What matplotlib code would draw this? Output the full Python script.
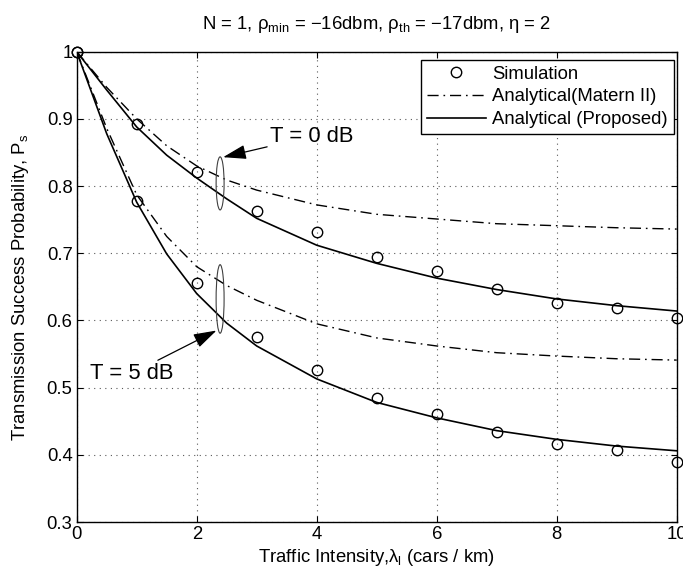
import matplotlib
matplotlib.use("Agg")
import matplotlib.pyplot as plt
from matplotlib.patches import Ellipse

plt.rcParams['font.family'] = ['Liberation Sans', 'DejaVu Sans']
plt.rcParams['mathtext.fontset'] = 'custom'
plt.rcParams['mathtext.rm'] = 'Liberation Sans'
plt.rcParams['mathtext.it'] = 'Liberation Sans'
plt.rcParams['mathtext.default'] = 'regular'

# Simulated success probability at integer traffic intensities
lam_sim = [0, 1, 2, 3, 4, 5, 6, 7, 8, 9, 10]
sim_t0 = [1.0, 0.893, 0.821, 0.763, 0.731, 0.694, 0.673, 0.647, 0.626, 0.618, 0.604]
sim_t5 = [1.0, 0.778, 0.656, 0.575, 0.526, 0.484, 0.461, 0.434, 0.416, 0.407, 0.389]

# Analytical curves
lam_curve = [0, 0.5, 1, 1.5, 2, 2.5, 3, 4, 5, 6, 7, 8, 9, 10]
prop_t0 = [1.0, 0.943, 0.888, 0.846, 0.812, 0.781, 0.752, 0.712, 0.685, 0.663, 0.646, 0.632, 0.622, 0.614]
matern_t0 = [1.0, 0.947, 0.900, 0.860, 0.830, 0.809, 0.794, 0.772, 0.758, 0.751, 0.744, 0.741, 0.738, 0.736]
prop_t5 = [1.0, 0.878, 0.776, 0.699, 0.640, 0.596, 0.562, 0.513, 0.478, 0.455, 0.436, 0.423, 0.413, 0.406]
matern_t5 = [1.0, 0.886, 0.787, 0.725, 0.680, 0.652, 0.630, 0.595, 0.574, 0.562, 0.552, 0.547, 0.543, 0.541]

x_ticks = [0, 2, 4, 6, 8, 10]
y_ticks = [0.3, 0.4, 0.5, 0.6, 0.7, 0.8, 0.9, 1.0]
y_tick_labels = ['0.3', '0.4', '0.5', '0.6', '0.7', '0.8', '0.9', '1']

FS = 13.3
dashdot = (8, 3.5, 1.2, 3.5)

fig = plt.figure(figsize=(6.83, 5.72), dpi=100)
ax = fig.add_axes([0.1123, 0.0874, 0.8785, 0.8222])

ax.plot(lam_sim, sim_t0, 'o', ls='none', mfc='none', mec='k', ms=7.5, mew=1.0,
        clip_on=False, zorder=4, label='Simulation')
ax.plot(lam_sim, sim_t5, 'o', ls='none', mfc='none', mec='k', ms=7.5, mew=1.0,
        clip_on=False, zorder=4)
ax.plot(lam_curve, matern_t0, color='k', lw=1.0, dashes=dashdot,
        label='Analytical(Matern II)')
ax.plot(lam_curve, matern_t5, color='k', lw=1.0, dashes=dashdot)
ax.plot(lam_curve, prop_t0, color='k', lw=1.2, label='Analytical (Proposed)')
ax.plot(lam_curve, prop_t5, color='k', lw=1.2)

ax.set_xlim(0, 10)
ax.set_ylim(0.3, 1.0)
ax.set_xticks(x_ticks)
ax.set_yticks(y_ticks)
ax.set_yticklabels(y_tick_labels)
ax.tick_params(direction='in', length=4, width=0.8, top=True, right=True,
               labelsize=FS, pad=3)
ax.grid(True, color='0.35', ls=(0, (1, 4)), lw=0.8)
for sp in ax.spines.values():
    sp.set_linewidth(1.0)

ax.set_title('N = 1, ρ$_{min}$ = −16dbm, ρ$_{th}$ = −17dbm, η = 2',
             fontsize=FS, pad=16)
ax.set_xlabel('Traffic Intensity,λ$_l$ (cars / km)', fontsize=FS, labelpad=3)
ax.set_ylabel('Transmission Success Probability, P$_s$', fontsize=FS, labelpad=11)

# Group markers for the two thresholds
ax.add_patch(Ellipse((2.39, 0.804), 0.133, 0.079, fill=False, ec='0.25', lw=0.8, zorder=3))
ax.add_patch(Ellipse((2.39, 0.632), 0.133, 0.102, fill=False, ec='0.25', lw=0.8, zorder=3))

arrow = dict(arrowstyle='-|>,head_length=0.9,head_width=0.28', color='k', lw=0.9,
             shrinkA=0, shrinkB=0)
ax.annotate('T = 0 dB', xy=(2.44, 0.843), xytext=(3.22, 0.874),
            fontsize=15.8, va='center', ha='left', arrowprops=arrow)
ax.annotate('T = 5 dB', xy=(2.33, 0.585), xytext=(0.22, 0.521),
            fontsize=15.8, va='center', ha='left', arrowprops=arrow)

leg = ax.legend(loc='upper right', bbox_to_anchor=(0.9955, 0.9824), fontsize=FS,
                frameon=True, fancybox=False, framealpha=1, edgecolor='k',
                handlelength=3.2, handletextpad=0.35, labelspacing=0.3,
                borderpad=0.32, borderaxespad=0)
leg.get_frame().set_linewidth(1.0)

fig.savefig('out.png', dpi=100)
